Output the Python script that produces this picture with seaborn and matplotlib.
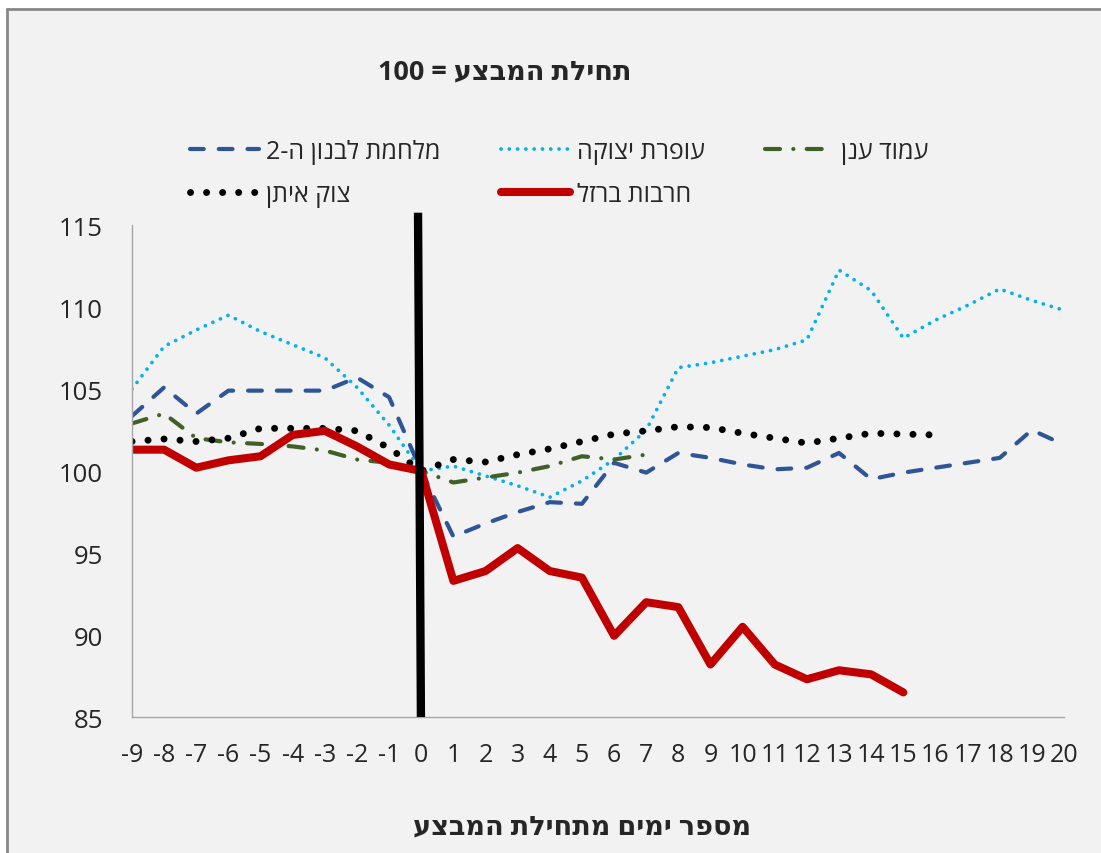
import numpy as np
import pandas as pd
import seaborn as sns
import matplotlib.pyplot as plt
from matplotlib.patches import Rectangle
from matplotlib.lines import Line2D

# days relative to the start of the operation
days = list(range(-9, 21))

# index values (start of operation = 100)
lebanon2 = [103.35, 105.1, 103.5, 104.9, 104.9, 104.9, 104.9, 105.7, 104.5, 100.0,
            96.0, 96.8, 97.5, 98.1, 98.0, 100.5, 99.9, 101.1, 100.8, 100.4,
            100.1, 100.2, 101.1, 99.5, 99.9, 100.2, 100.5, 100.8, 102.5, 101.6]
cast_lead = [105.0, 107.6, 108.6, 109.5, 108.5, 107.7, 106.9, 105.1, 102.8, 100.0,
             100.3, 99.7, 99.1, 98.4, 99.4, 100.7, 102.5, 106.3, 106.6, 107.0,
             107.4, 108.0, 112.25, 111.0, 108.1, 109.2, 110.1, 111.1, 110.4, 109.8]
pillar = [102.9, 103.5, 102.0, 101.75, 101.65, 101.5, 101.25, 100.7, 100.5, 100.0,
          99.3, 99.6, 99.9, 100.3, 100.9, 100.7, 101.0]
protective_edge = [101.8, 101.95, 101.8, 102.0, 102.6, 102.6, 102.6, 102.45, 101.4, 100.0,
                   100.7, 100.55, 101.0, 101.35, 101.8, 102.25, 102.45, 102.7, 102.65, 102.3,
                   102.0, 101.7, 102.0, 102.3, 102.25, 102.2]
swords_iron = [101.3, 101.3, 100.2, 100.65, 100.9, 102.2, 102.45, 101.5, 100.4, 100.0,
               93.3, 93.9, 95.3, 93.9, 93.5, 89.95, 92.0, 91.7, 88.2, 90.5,
               88.2, 87.3, 87.85, 87.6, 86.5]

names = ['מלחמת לבנון ה-2', 'עופרת יצוקה', 'עמוד ענן', 'צוק איתן', 'חרבות ברזל']
title_txt = 'תחילת המבצע'
xlabel_txt = 'מספר ימים מתחילת המבצע'
yticks = [85, 90, 95, 100, 105, 110, 115]


def vis(s):
    # matplotlib has no bidi support, so give it the visual order
    return s[::-1]


sns.set_style('white')
plt.rcParams['font.family'] = ['Open Sans', 'DejaVu Sans']

bg = '#f2f2f2'
fig = plt.figure(figsize=(11.01, 8.54), dpi=100, facecolor='white')
# grey chart area with a border on the left and top only (rest is cut off)
x0, y0 = 7 / 1101, 1 - 10 / 854
fig.patches.append(Rectangle((x0, 0), 1 - x0, y0, transform=fig.transFigure,
                             facecolor=bg, edgecolor='none', zorder=-10))
fig.add_artist(Line2D([x0, x0], [0, y0], transform=fig.transFigure, color='#878787', lw=2))
fig.add_artist(Line2D([x0, 1], [y0, y0], transform=fig.transFigure, color='#878787', lw=2))

ax = fig.add_axes([132 / 1101, 1 - 718 / 854, (1064 - 132) / 1101, (718 - 226) / 854])
ax.set_facecolor('none')

styles = [
    (lebanon2, '#2f5597', 3.0, (0, (3.3, 3.6)), 'round'),
    (cast_lead, '#00b0f0', 2.7, (0, (0.01, 2.2)), 'round'),
    (pillar, '#3f6027', 3.0, (0, (3.6, 3.2, 0.01, 3.2)), 'round'),
    (protective_edge, 'black', 5.0, (0, (0.01, 2.3)), 'round'),
    (swords_iron, '#c00000', 5.8, '-', 'round'),
]
for name, (vals, col, lw, ls, cap) in zip(names, styles):
    df = pd.DataFrame({'day': days[:len(vals)], 'value': vals})
    sns.lineplot(data=df, x='day', y='value', ax=ax, color=col, linewidth=lw,
                 linestyle=ls, dash_capstyle=cap, solid_capstyle=cap,
                 solid_joinstyle='round', label=vis(name), legend=False)

# line marking the start of the operation
ax.plot([-0.1, -0.01], [115.75, 85], color='black', linewidth=6, clip_on=False,
        zorder=6, solid_capstyle='butt')

ax.set_xlim(-9, 20)
ax.set_ylim(85, 115)
ax.set_xticks(days)
ax.set_xticklabels([str(d) for d in days])
ax.set_yticks(yticks)
ax.set_yticklabels([str(v) for v in yticks])
ax.set_xlabel('')
ax.set_ylabel('')
for side in ['top', 'right']:
    ax.spines[side].set_visible(False)
for side in ['left', 'bottom']:
    ax.spines[side].set_color('#a6a6a6')
    ax.spines[side].set_linewidth(1.0)
ax.tick_params(axis='y', length=10, width=1, color='#a6a6a6', pad=11, labelsize=18.5)
ax.tick_params(axis='x', length=9, width=1, color='#a6a6a6', pad=9, labelsize=18)

handles, labels = ax.get_legend_handles_labels()
order = [0, 3, 1, 4, 2]
fig.legend([handles[i] for i in order], [labels[i] for i in order], ncol=3,
           loc='upper left', bbox_to_anchor=(190 / 1101, 1 - 140 / 854), frameon=False,
           fontsize=18, handlelength=2.75, handletextpad=0.3, columnspacing=2.4,
           labelspacing=0.72, borderpad=0, borderaxespad=0)

fig.text(505 / 1101, 1 - 73 / 854, '100 = ' + vis(title_txt), ha='center', va='center',
         fontsize=19.5, fontweight='bold')
fig.text(582 / 1101, 1 - 828 / 854, vis(xlabel_txt), ha='center', va='center',
         fontsize=19.5, fontweight='bold')

plt.savefig('out.png', dpi=100, facecolor='white')
